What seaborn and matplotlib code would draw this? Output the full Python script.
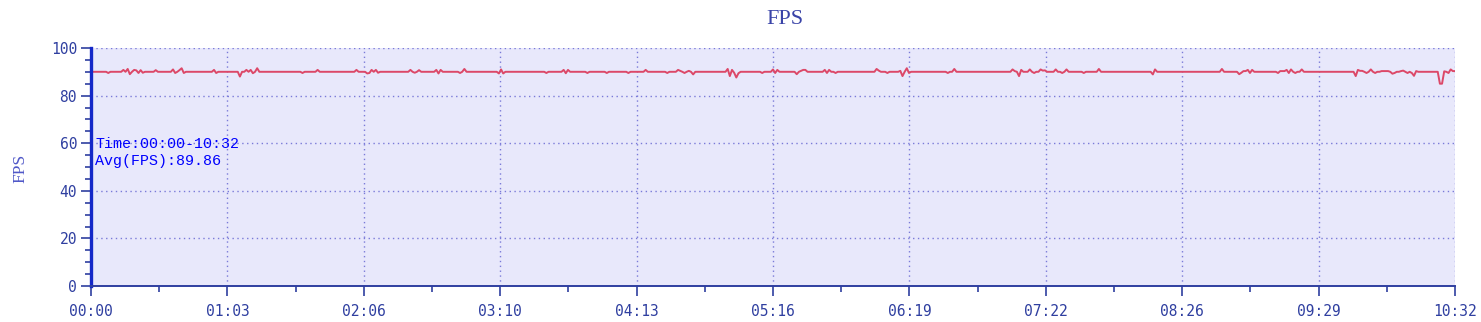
import matplotlib
matplotlib.use("Agg")
import matplotlib.pyplot as plt
import seaborn as sns
import pandas as pd
from matplotlib.ticker import MultipleLocator, FixedLocator

# ---- data: sample time (seconds since start) and FPS ----
times = [
    0, 7, 8, 9,
    14, 15, 16, 17, 18, 19, 20, 21, 22, 23, 24, 25,
    29, 30, 31,
    37, 38, 39, 40, 41, 42, 43, 44,
    56, 57, 58, 59,
    68, 69, 70,
    71, 72, 73, 74, 75, 76, 77, 78,
    97, 98, 99,
    104, 105, 106,
    122, 123, 124,
    127, 128, 129, 130, 131, 132, 133, 134,
    147, 148, 149, 150, 151, 152, 153,
    159, 160, 161, 162, 163,
    170, 171, 172, 173, 174,
    188, 189, 190, 191, 192,
    210, 211, 212,
    218, 219, 220, 221, 222,
    229, 230, 231,
    238, 239, 240,
    248, 249, 250,
    256, 257, 258,
    266, 267, 268,
    271, 272, 273, 274, 275, 276, 277, 278, 279, 280,
    294, 295, 296, 297, 298, 299, 300, 301,
    310, 311, 312,
    315, 316, 317, 318, 319,
    326, 327, 328, 329, 330, 331, 332,
    339, 340, 341, 342, 343, 344, 345, 346,
    363, 364, 365, 366,
    368, 369, 370,
    374, 375, 376, 377, 378, 379, 380,
    396, 397, 398, 399, 400, 401,
    426, 427, 428, 429, 430, 431, 432,
    434, 435, 436, 437, 438, 439, 440, 441, 442, 443,
    446, 447, 448, 449, 450, 451, 452, 453,
    459, 460, 461,
    466, 467, 468,
    491, 492, 493, 494,
    523, 524, 525,
    531, 532, 533, 534, 535, 536, 537, 538, 539,
    549, 550, 551, 552, 553, 554, 555, 556, 557, 558, 559, 560, 561, 562,
    585, 586, 587, 588, 589, 590, 591, 592, 593, 594, 595, 596, 597, 598, 599, 600, 601, 602,
    603, 604, 605, 606, 607, 608, 609, 610, 611, 612, 613, 614, 615,
    624, 625, 626, 627, 628, 629, 630, 631, 632,
]
fps = [
    90, 90, 89.5, 90,
    90, 90.8, 90, 91.2, 89, 90, 90.8, 90.6, 89.5, 90.7, 89.6, 90,
    90, 90.7, 90,
    90, 91, 89.5, 90, 90.7, 91.5, 89.5, 90,
    90, 90.8, 89.5, 90,
    90, 88, 90,
    90, 90.8, 90, 90.8, 89.4, 90, 91.5, 90,
    90, 89.5, 90,
    90, 90.8, 90,
    90, 90.8, 90,
    90, 89.3, 89.5, 90.8, 90, 90.8, 89.6, 90,
    90, 90.8, 90, 89.6, 90, 90.7, 90,
    90, 90.8, 89.3, 90.8, 90,
    90, 89.5, 90, 91.2, 90,
    90, 89.3, 91, 89.3, 90,
    90, 89.5, 90,
    90, 90.8, 89.4, 90.8, 90,
    90, 89.5, 90,
    90, 89.5, 90,
    90, 89.5, 90,
    90, 90.8, 90,
    90, 89.5, 90,
    90, 90.8, 90.4, 90, 89.5, 90, 90.4, 90, 88.9, 90,
    90, 91.2, 88.2, 90.8, 89.6, 87.6, 89.4, 90,
    90, 89.5, 90,
    90, 91, 89.5, 90.8, 90,
    90, 89, 90, 90.4, 90.8, 90.8, 90,
    90, 90.8, 89.5, 90.8, 90, 90, 89.5, 90,
    90, 91.2, 90.5, 90,
    90, 89.5, 90,
    90, 90.4, 88.2, 90, 91.5, 89.5, 90,
    90, 89.5, 90, 90, 91.2, 90,
    90, 91, 90.3, 90, 88.2, 90.8, 90,
    90, 91, 90, 89.5, 90, 90, 91, 90.5, 90.6, 90,
    90, 91, 90, 90, 89.5, 90, 91, 90,
    90, 89.5, 90,
    90, 91.2, 90,
    90, 88.9, 91, 90,
    90, 91.2, 90,
    90, 89, 89.6, 90.3, 90.3, 90.8, 89.5, 90.8, 90,
    90, 89.5, 90.3, 90.3, 90.3, 90.8, 89.5, 91, 90, 89.5, 90, 90, 91, 90,
    90, 88.2, 90.8, 90.4, 90.4, 90, 89.5, 90, 91, 90, 89.5, 90, 90, 90.3, 90.3, 90.3, 90.3, 90,
    89.2, 89.5, 90, 90, 90.3, 90.5, 90, 89.5, 90, 89.5, 88.3, 90.3, 90,
    90, 85, 85, 90.2, 90, 89.5, 91, 90.3, 90.3,
]

tick_labels = ["00:00", "01:03", "02:06", "03:10", "04:13", "05:16",
               "06:19", "07:22", "08:26", "09:29", "10:32"]
total_seconds = 632
time_range_text = "Time:00:00-10:32"
avg_text = "Avg(FPS):89.86"

df = pd.DataFrame({"t": times, "fps": fps})

sns.set_theme(style="white")
plt.rcParams["font.family"] = ["DejaVu Sans Mono", "DejaVu Sans"]

fig = plt.figure(figsize=(14.81, 3.22), dpi=100)
ax = fig.add_axes([91 / 1481, 1 - 286 / 322, (1455 - 91) / 1481, (286 - 48) / 322])
ax.set_facecolor("#e8e8fb")

sns.lineplot(data=df, x="t", y="fps", ax=ax, color="#dc4868", linewidth=1.4)

ax.set_xlim(0, total_seconds)
ax.set_ylim(0, 100)

step = total_seconds / 10
ax.xaxis.set_major_locator(FixedLocator([i * step for i in range(11)]))
ax.xaxis.set_minor_locator(FixedLocator([(i + 0.5) * step for i in range(10)]))
ax.set_xticklabels(tick_labels)
ax.yaxis.set_major_locator(MultipleLocator(20))
ax.yaxis.set_minor_locator(MultipleLocator(5))

tick_color = "#2f3fa0"
ax.tick_params(axis="both", which="major", length=7, width=1.2, color=tick_color,
               labelcolor=tick_color, labelsize=10.5, direction="out")
ax.tick_params(axis="both", which="minor", length=4.5, width=1.2, color=tick_color, direction="out")
ax.tick_params(axis="x", which="major", pad=6)
ax.tick_params(axis="y", which="major", pad=3)
ax.tick_params(bottom=True, left=True, which="both")

ax.grid(True, which="major", color="#7a7ad8", linestyle=(0, (1, 2.5)), linewidth=1.0)
ax.set_axisbelow(True)

for s in ["top", "right"]:
    ax.spines[s].set_visible(False)
ax.spines["left"].set_color("#1428c8")
ax.spines["left"].set_linewidth(2.4)
ax.spines["bottom"].set_color("#2f3fa0")
ax.spines["bottom"].set_linewidth(1.4)

ax.set_xlabel("")
ax.set_ylabel("FPS", family="Liberation Serif", fontsize=12.5, color="#5058c8")
ax.yaxis.set_label_coords((28 - 91) / 1364, (286 - 168) / 238)

fig.text(785 / 1481, 1 - 20 / 322, "FPS", family="Liberation Serif", fontsize=16,
         color="#3a44a8", ha="center", va="center")

ax.text(2.0, 59.5, time_range_text, family="Liberation Mono", fontsize=10.8,
        color="#0000ff", ha="left", va="center")
ax.text(2.0, 52.6, avg_text, family="Liberation Mono", fontsize=10.8,
        color="#0000ff", ha="left", va="center")

fig.savefig("out.png", dpi=100)
